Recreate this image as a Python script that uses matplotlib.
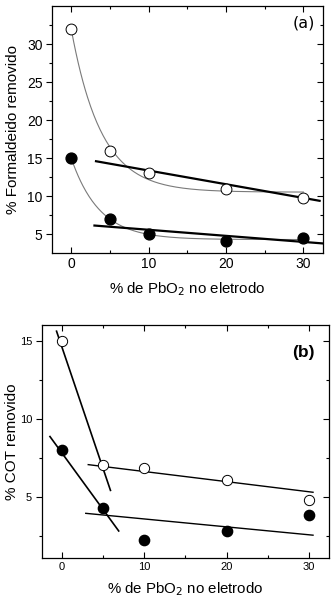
import matplotlib
matplotlib.use("Agg")
import matplotlib.pyplot as plt
import numpy as np

plt.rcParams['font.family'] = ['Liberation Sans', 'DejaVu Sans']

# % PbO2 in the electrode
pbo2 = np.array([0, 5, 10, 20, 30])

# panel (a): % formaldehyde removed
form_open = np.array([32.0, 16.0, 13.0, 11.0, 9.8])
form_filled = np.array([15.0, 7.0, 5.0, 4.1, 4.55])
# straight trend lines (x ends, y ends)
form_line_open_x = [3.2, 32.1]
form_line_open_y = [14.6, 9.4]
form_line_filled_x = [3.0, 32.5]
form_line_filled_y = [6.15, 3.8]

# panel (b): % COT removed
cot_open = np.array([15.0, 7.0, 6.85, 6.05, 4.8])
cot_filled = np.array([8.0, 4.25, 2.25, 2.8, 3.8])
cot_steep_open_x = [-0.65, 5.9]
cot_steep_open_y = [15.6, 5.4]
cot_steep_filled_x = [-1.45, 6.9]
cot_steep_filled_y = [8.85, 2.8]
cot_flat_open_x = [3.2, 30.5]
cot_flat_open_y = [7.05, 5.28]
cot_flat_filled_x = [2.9, 30.5]
cot_flat_filled_y = [3.93, 2.53]


def exp_decay_fit(x, y):
    # y = y0 + A*exp(-x/t), best t by a simple scan
    best = None
    for t in np.linspace(0.5, 20, 800):
        M = np.column_stack([np.ones_like(x, dtype=float), np.exp(-x / t)])
        coef = np.linalg.lstsq(M, y, rcond=None)[0]
        r = np.sum((M @ coef - y) ** 2)
        if best is None or r < best[0]:
            best = (r, t, coef)
    _, t, coef = best
    xs = np.linspace(x.min(), x.max(), 300)
    return xs, coef[0] + coef[1] * np.exp(-xs / t)


def style_axes(ax, ylab_minor, lsize):
    ax.set_xlim(-2.45, 32.5)
    ax.set_xticks([0, 10, 20, 30])
    ax.set_xticks([5, 15, 25], minor=True)
    ax.set_yticks(ylab_minor, minor=True)
    ax.tick_params(which='both', direction='in', top=True, right=True,
                   labelsize=lsize, width=0.8, pad=3)
    ax.tick_params(which='major', length=4)
    ax.tick_params(which='minor', length=2.5)
    ax.tick_params(axis='y', which='both', left=True, direction='out')
    # right ticks stay inside
    for t in ax.yaxis.get_major_ticks() + ax.yaxis.get_minor_ticks():
        t.tick2line.set_marker(matplotlib.lines.TICKLEFT)
    for s in ax.spines.values():
        s.set_linewidth(0.9)


fig = plt.figure(figsize=(3.34, 6.04), dpi=100)

# ---- panel (a)
ax1 = fig.add_axes([0.1566, 0.5806, 0.8096, 0.4095])
xs, ys = exp_decay_fit(pbo2, form_open)
ax1.plot(xs, ys, color='#7a7a7a', lw=0.8)
xs, ys = exp_decay_fit(pbo2, form_filled)
ax1.plot(xs, ys, color='#7a7a7a', lw=0.8)
ax1.plot(form_line_open_x, form_line_open_y, color='black', lw=1.6)
ax1.plot(form_line_filled_x, form_line_filled_y, color='black', lw=1.6)
ax1.plot(pbo2, form_open, 'o', ms=7.8, mfc='white', mec='black', mew=0.7)
ax1.plot(pbo2, form_filled, 'o', ms=7.8, mfc='black', mec='black')
ax1.set_ylim(2.5, 35.0)
ax1.set_yticks([5, 10, 15, 20, 25, 30])
style_axes(ax1, [7.5, 12.5, 17.5, 22.5, 27.5, 32.5], 10)
ax1.set_ylabel('% Formaldeido removido', fontsize=11)
ax1.yaxis.set_label_coords(-0.12, 0.5)
ax1.set_xlabel('% de PbO$_2$ no eletrodo', fontsize=10.8, labelpad=6)
ax1.text(0.971, 0.931, '(a)', transform=ax1.transAxes, ha='right', va='center',
         fontsize=11.5, family='DejaVu Sans')

# ---- panel (b)
ax2 = fig.add_axes([0.1249, 0.0757, 0.8616, 0.3863])
ax2.plot(cot_steep_open_x, cot_steep_open_y, color='black', lw=1.2)
ax2.plot(cot_steep_filled_x, cot_steep_filled_y, color='black', lw=1.2)
ax2.plot(cot_flat_open_x, cot_flat_open_y, color='black', lw=1.0)
ax2.plot(cot_flat_filled_x, cot_flat_filled_y, color='black', lw=1.0)
ax2.plot(pbo2, cot_open, 'o', ms=7.4, mfc='white', mec='black', mew=0.7)
ax2.plot(pbo2, cot_filled, 'o', ms=7.4, mfc='black', mec='black')
ax2.set_ylim(1.05, 16.0)
ax2.set_yticks([5, 10, 15])
style_axes(ax2, [2.5, 7.5, 12.5], 8)
ax2.set_ylabel('% COT removido', fontsize=11)
ax2.yaxis.set_label_coords(-0.078, 0.5)
ax2.set_xlabel('% de PbO$_2$ no eletrodo', fontsize=10.8, labelpad=6)
ax2.text(0.95, 0.88, '(b)', transform=ax2.transAxes, ha='right', va='center',
         fontsize=12.5, fontweight='bold')

fig.savefig('out.png', dpi=100)
